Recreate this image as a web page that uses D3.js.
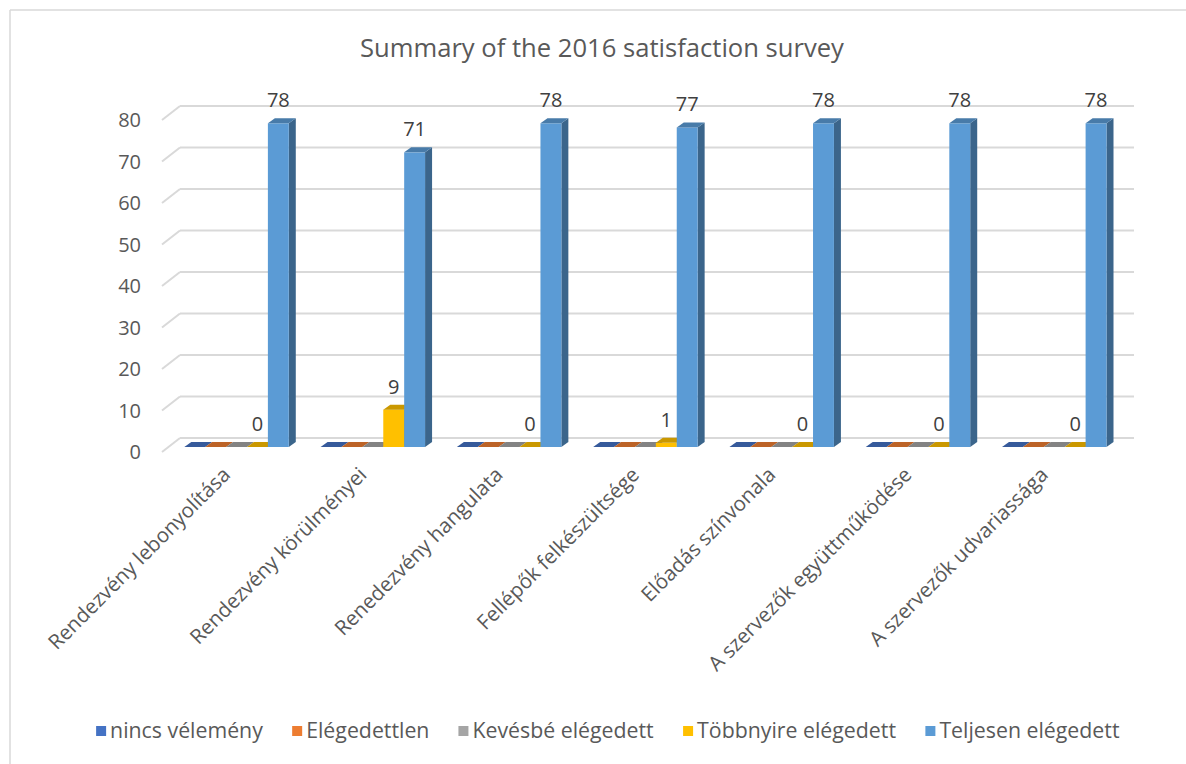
<!DOCTYPE html>
<html>
<head>
<meta charset="utf-8">
<script src="https://cdn.jsdelivr.net/npm/d3@7"></script>
<style>
  html, body { margin: 0; padding: 0; background: #fff; }
  svg { display: block; font-family: "Open Sans", "Noto Sans", sans-serif; }
</style>
</head>
<body>
<svg id="chart" width="1186" height="764"></svg>
<script>
const title = "Summary of the 2016 satisfaction survey";
const categories = [
  "Rendezvény lebonyolítása",
  "Rendezvény körülményei",
  "Renedezvény hangulata",
  "Fellépők felkészültsége",
  "Előadás színvonala",
  "A szervezők együttműködése",
  "A szervezők udvariassága"
];
const seriesNames = ["nincs vélemény", "Elégedettlen", "Kevésbé elégedett", "Többnyire elégedett", "Teljesen elégedett"];
const seriesColors = ["#4472C4", "#ED7D31", "#A5A5A5", "#FFC000", "#5B9BD5"];
const nincsVelemeny = [0, 0, 0, 0, 0, 0, 0];
const elegedettlen = [0, 0, 0, 0, 0, 0, 0];
const kevesbeElegedett = [0, 0, 0, 0, 0, 0, 0];
const tobbnyireElegedett = [0, 9, 0, 1, 0, 0, 0];
const teljesenElegedett = [78, 71, 78, 77, 78, 78, 78];
const seriesValues = [nincsVelemeny, elegedettlen, kevesbeElegedett, tobbnyireElegedett, teljesenElegedett];
const labelledSeries = [3, 4];
const yTicks = [0, 10, 20, 30, 40, 50, 60, 70, 80];

const svg = d3.select("#chart");

// border (top and left visible)
svg.append("line").attr("x1", 10).attr("y1", 10).attr("x2", 1186).attr("y2", 10)
  .attr("stroke", "#d9d9d9").attr("stroke-width", 1.5);
svg.append("line").attr("x1", 10).attr("y1", 10).attr("x2", 10).attr("y2", 764)
  .attr("stroke", "#d9d9d9").attr("stroke-width", 1.5);

// title
svg.append("text").attr("x", 602).attr("y", 57).attr("text-anchor", "middle")
  .attr("font-size", 25.6).attr("fill", "#595959").text(title);

// 3D geometry: bar plane scales, with offsets to back wall / front edge
const y = d3.scaleLinear().domain([0, 80]).range([447, 115]);
const x0 = d3.scaleBand().domain(categories).range([168.4, 1122.4]).paddingInner(0).paddingOuter(0);
const groupPad = 15.9;
const x1 = d3.scaleBand().domain(d3.range(seriesNames.length))
  .range([groupPad, x0.bandwidth() - groupPad]).padding(0);
const back = {dx: 11.6, dy: -9};
const front = {dx: -6.4, dy: 5};
const depth = {dx: 7, dy: -5};

// gridlines: back wall + side wall diagonals
const grid = svg.append("g");
yTicks.forEach(t => {
  const yb = y(t) + back.dy;
  grid.append("line")
    .attr("x1", x0.range()[0] + back.dx).attr("x2", x0.range()[1] + back.dx)
    .attr("y1", yb).attr("y2", yb)
    .attr("stroke", "#d9d9d9").attr("stroke-width", 2);
  grid.append("line")
    .attr("x1", x0.range()[0] + front.dx).attr("y1", y(t) + front.dy)
    .attr("x2", x0.range()[0] + back.dx).attr("y2", yb)
    .attr("stroke", "#d9d9d9").attr("stroke-width", 2);
});

// y-axis labels (front plane)
svg.append("g").selectAll("text").data(yTicks).join("text")
  .attr("x", 141).attr("y", d => y(d) + front.dy)
  .attr("dy", "0.35em").attr("text-anchor", "end")
  .attr("font-size", 20).attr("fill", "#595959").text(d => d);

// bars
const bars = svg.append("g");
categories.forEach((c, ci) => {
  seriesValues.forEach((vals, si) => {
    const v = vals[ci];
    const col = d3.color(seriesColors[si]);
    const xa = x0(c) + x1(si), w = x1.bandwidth();
    const xb = xa + w, yt = y(v), yb = y(0);
    const g = bars.append("g");
    g.append("polygon")
      .attr("points", [[xb, yt], [xb + depth.dx, yt + depth.dy], [xb + depth.dx, yb + depth.dy], [xb, yb]].join(" "))
      .attr("fill", col.darker(1.2));
    g.append("rect").attr("x", xa).attr("y", yt).attr("width", w).attr("height", yb - yt)
      .attr("fill", col);
    g.append("polygon")
      .attr("points", [[xa, yt], [xa + depth.dx, yt + depth.dy], [xb + depth.dx, yt + depth.dy], [xb, yt]].join(" "))
      .attr("fill", col.darker(0.65));
  });
});

// data labels
const labels = svg.append("g");
labelledSeries.forEach(si => {
  categories.forEach((c, ci) => {
    const v = seriesValues[si][ci];
    labels.append("text")
      .attr("x", x0(c) + x1(si) + x1.bandwidth() / 2)
      .attr("y", y(v) - 16)
      .attr("text-anchor", "middle").attr("font-size", 20).attr("fill", "#404040")
      .text(v);
  });
});

// category labels, rotated
svg.append("g").selectAll("text").data(categories).join("text")
  .attr("transform", d => `translate(${x0(d) + x0.bandwidth() / 2 - 5},${y(0) + 29}) rotate(-45)`)
  .attr("text-anchor", "end").attr("font-size", 20.5).attr("fill", "#595959")
  .text(d => d);

// legend
const legend = svg.append("g");
const items = legend.selectAll("g").data(seriesNames).join("g");
items.append("rect").attr("width", 10).attr("height", 10).attr("y", -5)
  .attr("fill", (d, i) => seriesColors[i]);
items.append("text").attr("x", 14).attr("dy", "0.35em").attr("font-size", 21.3)
  .attr("fill", "#595959").text(d => d);
let widths = [];
items.each(function() { widths.push(this.getBBox().width); });
const gap = 29;
const total = d3.sum(widths) + gap * (widths.length - 1);
let cx = 608 - total / 2;
items.attr("transform", (d, i) => {
  const t = `translate(${cx},731)`;
  cx += widths[i] + gap;
  return t;
});
</script>
</body>
</html>
